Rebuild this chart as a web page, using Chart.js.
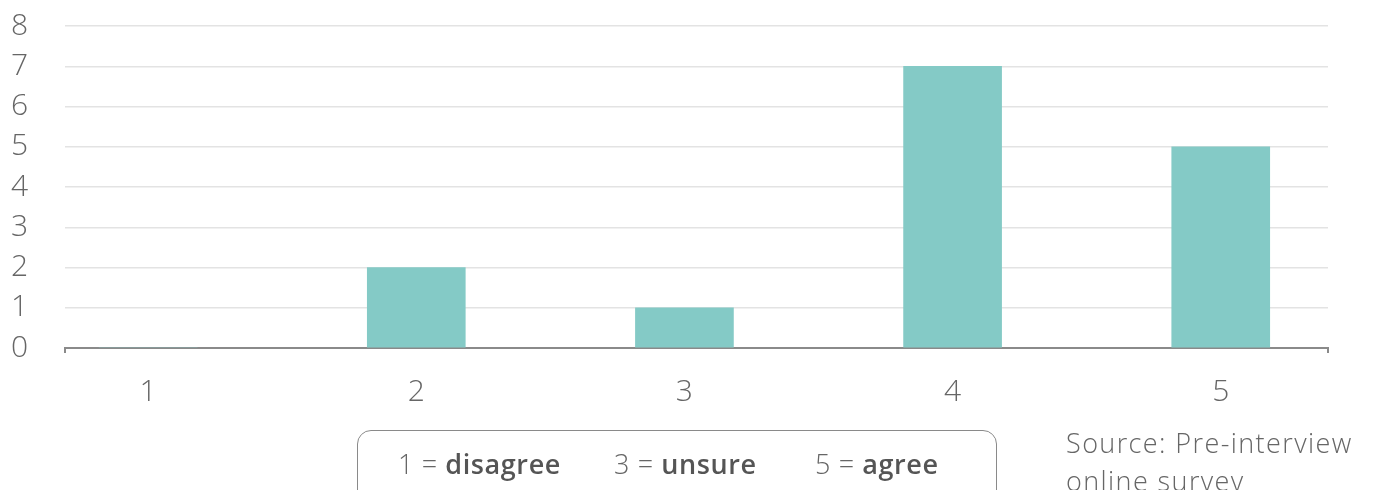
<!DOCTYPE html>
<html>
<head>
<meta charset="utf-8">
<script src="https://cdn.jsdelivr.net/npm/chart.js@4/dist/chart.umd.min.js"></script>
<style>
    html, body { margin: 0; padding: 0; background: #fff; }
    body { width: 1373px; height: 490px; overflow: hidden; position: relative; font-family: "Open Sans", sans-serif; }
    #wrap { position: absolute; left: 0; top: 0; width: 1373px; height: 490px; }
    .keyBox {
        position: absolute; left: 357px; top: 430px; width: 640px; height: 90px;
        border: 1.5px solid #8a8a8a; border-radius: 14px; box-sizing: border-box;
        font-size: 27px; font-weight: 300; color: #666; letter-spacing: 0.6px;
    }
    .keyBox span.item { position: absolute; top: 14px; white-space: nowrap; }
    .keyBox b { font-weight: 600; color: #555; }
    .source {
        position: absolute; left: 1066px; top: 424px; width: 307px;
        font-size: 27px; font-weight: 300; color: #666; line-height: 38px; letter-spacing: 1.4px;
    }
</style>
</head>
<body>
<div id="wrap"><canvas id="surveyChart"></canvas></div>
<div class="keyBox">
    <span class="item" style="left:40px">1 = <b>disagree</b></span>
    <span class="item" style="left:256px">3 = <b>unsure</b></span>
    <span class="item" style="left:457px">5 = <b>agree</b></span>
</div>
<div class="source">Source: Pre-interview online survey</div>
<script>
// --- data ---
const categories = [1, 2, 3, 4, 5];
const responses = [0, 2, 1, 7, 5];
const yTicks = [0, 1, 2, 3, 4, 5, 6, 7, 8];

const TEXT_COLOR = '#666';
const BAR_COLOR = '#84cac6';
const AXIS_FONT = { family: 'Open Sans', size: 30, weight: 300 };

const ctx = document.getElementById('surveyChart').getContext('2d');

new Chart(ctx, {
    type: 'bar',
    data: {
        datasets: [{
            data: categories.map((c, i) => ({ x: c, y: responses[i] })),
            backgroundColor: BAR_COLOR,
            borderWidth: 0,
            barThickness: 98
        }]
    },
    options: {
        responsive: true,
        maintainAspectRatio: false,
        animation: false,
        layout: { padding: { left: 0, right: 45, top: 26, bottom: 0 } },
        plugins: { legend: { display: false }, tooltip: { enabled: false } },
        scales: {
            x: {
                type: 'linear',
                offset: false,
                z: 1, // draw the axis line over the empty bar at 0
                min: 0.69,
                max: 5.40,
                // only the category numbers get labels, the two ends just get a tick mark
                afterBuildTicks: s => {
                    s.ticks = [s.min, ...categories, s.max].map(v => ({ value: v }));
                },
                afterFit: s => {
                    s.height = 142;
                    s.paddingLeft = 0;
                    s.paddingRight = 0;
                },
                ticks: {
                    color: TEXT_COLOR,
                    font: AXIS_FONT,
                    padding: 21,
                    maxRotation: 0,
                    autoSkip: false,
                    callback: v => categories.includes(v) ? String(v) : ''
                },
                grid: {
                    offset: false,
                    drawOnChartArea: false,
                    tickLength: 5,
                    lineWidth: 2,
                    color: c => (c.index === 0 || c.index === categories.length + 1) ? '#8a8a8a' : 'rgba(0,0,0,0)'
                },
                border: { color: '#8a8a8a', width: 2 }
            },
            y: {
                min: 0,
                max: 8,
                afterBuildTicks: s => { s.ticks = yTicks.map(v => ({ value: v })); },
                afterFit: s => {
                    s.width = 65;
                    s.paddingTop = 0;
                    s.paddingBottom = 0;
                },
                ticks: {
                    color: TEXT_COLOR,
                    font: AXIS_FONT,
                    padding: 37,
                    autoSkip: false
                },
                grid: { color: '#e3e3e3', lineWidth: 1.5, drawTicks: false },
                border: { display: false }
            }
        }
    }
});
</script>
</body>
</html>
